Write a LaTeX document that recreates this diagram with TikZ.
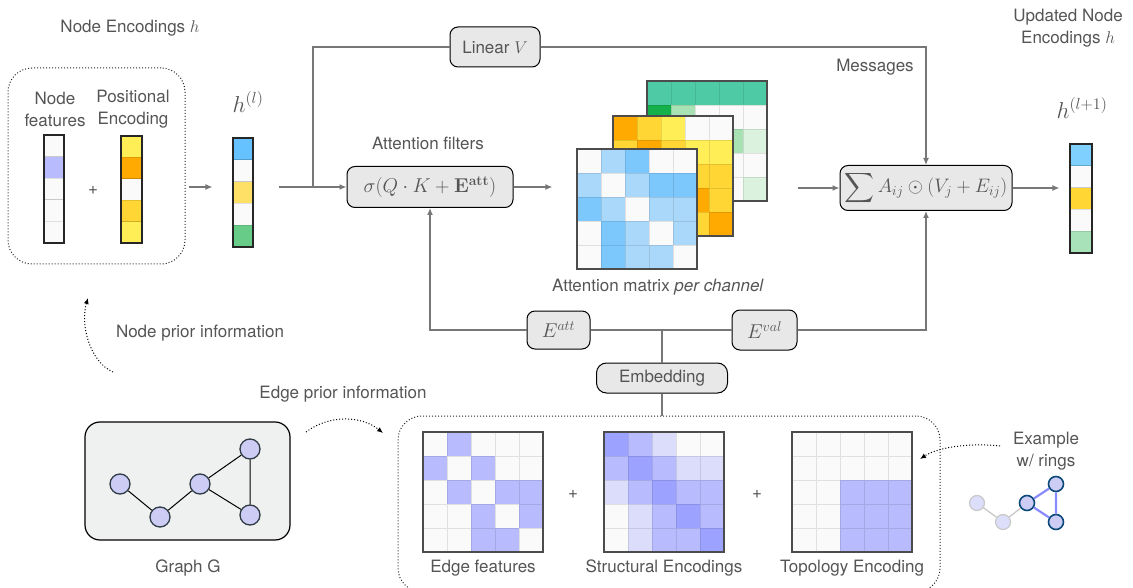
\RequirePackage{fix-cm}
\documentclass[tikz,border=0pt]{standalone}
\usepackage{amsmath}
\usepackage[no-math]{fontspec}
\setmainfont{TeX Gyre Heros}
\usetikzlibrary{arrows.meta}

\definecolor{txtgrey}{HTML}{555555}
\definecolor{linegrey}{HTML}{777777}
\definecolor{boxgrey}{HTML}{E8E8E8}
\definecolor{graphbg}{HTML}{EFF1F0}
\definecolor{nodefill}{HTML}{CCCCF5}
\definecolor{nodeedge}{HTML}{2F3B44}
\definecolor{ringedge}{HTML}{0B4A7A}
\definecolor{ringline}{HTML}{8A8AFF}
\definecolor{fadefill}{HTML}{DDDFFA}
\definecolor{fadeedge}{HTML}{C8C8C8}
% cell colours
\definecolor{cw}{HTML}{FAFAFA}
\definecolor{lav}{HTML}{B8BCFF}
\definecolor{lavd}{HTML}{9CA2FF}
\definecolor{lavl}{HTML}{DCDDFA}
\definecolor{yel}{HTML}{FFEE55}
\definecolor{ora}{HTML}{FFAA00}
\definecolor{gol}{HTML}{FFD633}
\definecolor{bll}{HTML}{AAD8FA}
\definecolor{blm}{HTML}{7CC8FC}
\definecolor{grt}{HTML}{4ECBA5}
\definecolor{grd}{HTML}{14B04A}
\definecolor{grl}{HTML}{A8E2B4}
\definecolor{grv}{HTML}{DBF2DF}
\definecolor{hb}{HTML}{66C2FF}
\definecolor{hy}{HTML}{FFE066}
\definecolor{hg}{HTML}{66CC88}
\definecolor{ob}{HTML}{80D0FF}
\definecolor{om}{HTML}{A8E2B8}

% #1,#2 top left, #3 columns, #4 cell width, #5 cell height, #6 colours row by row
\newcommand{\cellgrid}[6]{%
  \foreach \cc [count=\k from 0] in {#6} {
    \pgfmathtruncatemacro\cx{mod(\k,#3)}
    \pgfmathtruncatemacro\cy{\k/#3}
    \fill[\cc] (#1+\cx*#4,#2+\cy*#5) rectangle ++(#4,#5);
    \draw[black, draw opacity=0.1, line width=0.8pt] (#1+\cx*#4,#2+\cy*#5) rectangle ++(#4,#5);
  }%
}

\begin{document}
\begin{tikzpicture}[x=1pt,y=-1pt,
txt/.style={
text=txtgrey,
font=\fontsize{17}{22}\selectfont,
align=center,
inner sep=0pt
},
box/.style={
% The shape:
rectangle,
rounded corners=8pt,
draw=black,
line width=1pt,
fill=boxgrey,
text=txtgrey,
font=\fontsize{17}{22}\selectfont,
inner sep=0pt
},
dotbox/.style={rectangle,rounded corners=24pt,draw=black!85,dotted,line width=1pt},
vecframe/.style={rectangle,draw=black!85,line width=1.1pt,inner sep=0pt},
matframe/.style={rectangle,draw=black!70,line width=1.2pt,inner sep=0pt,minimum size=120pt},
conn/.style={draw=linegrey,line width=1.3pt},
arrow/.style={conn,-{Latex[length=7pt,width=6pt]}},
dotarrow/.style={draw=black,dotted,line width=1pt,-{Latex[length=6pt,width=5pt]}},
gnode/.style={circle,draw=nodeedge,line width=1.3pt,fill=nodefill,minimum size=20pt,inner sep=0pt}
]
\useasboundingbox (0,0) rectangle (1133,588);

% Node encodings
\node[txt] (enctitle) at (130,28) {Node Encodings $h$};
\node[dotbox,minimum width=177pt,minimum height=196pt] (encbox) at (96.5,166) {};
\node[txt] (nftext) at (55,109) {Node\\features};
\node[txt] (petext) at (133,109) {Positional\\Encoding};
\cellgrid{44}{135}{1}{20}{21.6}{cw,lav,cw,cw,cw}
\node[vecframe,minimum width=20pt,minimum height=108pt] (nf) at (54,189) {};
\cellgrid{121}{136}{1}{21}{21.4}{yel,ora,cw,gol,yel}
\node[vecframe,minimum width=21pt,minimum height=107pt] (pe) at (131.5,189.5) {};
\node[txt] (plusa) at (93,190) {+};

\node[txt,font=\fontsize{23}{26}\selectfont] (hltext) at (248,102) {$h^{(l)}$};
\cellgrid{233}{138}{1}{20}{21.8}{hb,cw,hy,cw,hg}
\node[vecframe,minimum width=20pt,minimum height=109pt] (hl) at (243,192.5) {};

% Attention
\node[txt] (filtext) at (428,143) {Attention filters};
\node[box,minimum width=166pt,minimum height=41pt,font=\fontsize{20}{22}\selectfont] (sigma) at (430,187) {$\sigma(Q\cdot K+\mathbf{E}^{\mathbf{att}})$};
\node[box,minimum width=90pt,minimum height=40pt] (linv) at (495,47) {Linear $V$};
\node[txt] (msgtext) at (875,67) {Messages};
\coordinate (split) at (313,187);

\cellgrid{647}{81}{5}{24}{24}{grt,grt,grt,grt,grt,grd,grl,cw,cw,cw,cw,cw,cw,grl,grv,cw,cw,cw,cw,cw,cw,cw,cw,cw,grv}
\node[matframe] (attG) at (707,141) {};
\cellgrid{613}{116}{5}{24}{24}{ora,gol,yel,cw,cw,gol,ora,gol,yel,yel,yel,gol,ora,gol,gol,cw,yel,gol,ora,gol,cw,yel,gol,gol,ora}
\node[matframe] (attY) at (673,176) {};
\cellgrid{577}{149}{5}{24}{24}{cw,bll,blm,cw,cw,bll,cw,bll,blm,blm,blm,bll,cw,bll,bll,cw,blm,bll,cw,bll,cw,blm,bll,bll,cw}
\node[matframe] (attB) at (637,209) {};
\node[txt] (attext) at (658,287) {Attention matrix \textit{per channel}};

\node[box,minimum width=172pt,minimum height=45pt,font=\fontsize{19.5}{22}\selectfont] (sumbox) at (926,188) {$\displaystyle\sum A_{ij}\odot(V_j+E_{ij})$};

\node[txt] (updtext) at (1068,28) {Updated Node\\Encodings $h$};
\node[txt,font=\fontsize{23}{26}\selectfont] (houttext) at (1082,108) {$h^{(l+1)}$};
\cellgrid{1070}{144}{1}{22}{21.8}{ob,cw,gol,cw,om}
\node[vecframe,minimum width=22pt,minimum height=109pt] (hout) at (1081,198.5) {};

\draw[arrow,shorten <=3pt,shorten >=20pt] (encbox.east |- sigma) -- (hl.west |- sigma);
\draw[arrow,shorten <=25pt] (hl.east |- sigma) -- (sigma.west);
\draw[conn] (split) |- (linv.west);
\draw[arrow] (linv.east) -| (sumbox.north);
\draw[arrow,shorten >=24pt] (sigma.east) -- (attB.west |- sigma);
\draw[arrow,shorten <=30pt] (attG.east |- sumbox) -- (sumbox.west);
\draw[arrow,shorten >=10pt] (sumbox.east) -- (hout.west |- sumbox);

% Edge embeddings
\node[box,minimum width=63pt,minimum height=38pt,font=\fontsize{20}{24}\selectfont] (eatt) at (558.5,330) {$E^{att}$};
\node[box,minimum width=65pt,minimum height=40pt,font=\fontsize{20}{24}\selectfont] (eval) at (764.5,330) {$E^{val}$};
\node[box,rounded corners=10pt,minimum width=131pt,minimum height=30pt] (embed) at (662,378) {Embedding};
\node[dotbox,minimum width=542pt,minimum height=176pt] (edgebox) at (669,504) {};

\draw[arrow] (eatt.west) -| (sigma.south);
\draw[conn] (eatt.east) -- (eval.west);
\draw[arrow] (eval.east) -| (sumbox.south);
\draw[conn] (embed.north) -- (embed.north |- eatt.east);
\draw[conn] (embed.south) -- (embed.south |- edgebox.north);

\cellgrid{423}{432}{5}{24}{24}{cw,lav,cw,cw,cw,lav,cw,lav,cw,cw,cw,lav,cw,lav,lav,cw,cw,lav,cw,lav,cw,cw,lav,lav,cw}
\node[matframe] (edgefeat) at (483,492) {};
\cellgrid{604}{432}{5}{24}{24}{lavd,lav,lavl,cw,cw,lav,lavd,lav,lavl,lavl,lavl,lav,lavd,lav,lav,cw,lavl,lav,lavd,lav,cw,lavl,lav,lav,lavd}
\node[matframe] (structenc) at (664,492) {};
\cellgrid{792}{432}{5}{24}{24}{cw,cw,cw,cw,cw,cw,cw,cw,cw,cw,cw,cw,lav,lav,lav,cw,cw,lav,lav,lav,cw,cw,lav,lav,lav}
\node[matframe] (topoenc) at (852,492) {};
\node[txt] (plusb) at (573,494) {+};
\node[txt] (plusc) at (757,494) {+};
\node[txt] (eftext) at (483,568) {Edge features};
\node[txt] (setext) at (664,568) {Structural Encodings};
\node[txt] (tetext) at (852,568) {Topology Encoding};

% Graph G
\node[rectangle,rounded corners=15pt,draw=black,line width=1.2pt,fill=graphbg,minimum width=205pt,minimum height=118pt] (gbox) at (187.5,481) {};
\node[gnode] (g1) at (120,484) {};
\node[gnode] (g2) at (160,517) {};
\node[gnode] (g3) at (200,484) {};
\node[gnode] (g4) at (250,449) {};
\node[gnode] (g5) at (250,515) {};
\draw[black,line width=1pt] (g1) -- (g2) (g2) -- (g3) (g3) -- (g4) (g3) -- (g5) (g4) -- (g5);
\node[txt] (gtext) at (188,568) {Graph G};

% Example with rings
\node[txt] (extext) at (1046,451) {Example\\w/ rings};
\node[gnode,minimum size=15pt,draw=fadeedge,fill=fadefill,line width=1.2pt] (r1) at (977,503) {};
\node[gnode,minimum size=15pt,draw=fadeedge,fill=fadefill,line width=1.2pt] (r2) at (1003,522) {};
\node[gnode,minimum size=15pt,draw=ringedge,line width=1.6pt] (r3) at (1027,503) {};
\node[gnode,minimum size=15pt,draw=ringedge,line width=1.6pt] (r4) at (1056,484) {};
\node[gnode,minimum size=15pt,draw=ringedge,line width=1.6pt] (r5) at (1056,522) {};
\draw[fadeedge,line width=1.3pt] (r1) -- (r2) (r2) -- (r3);
\draw[ringline,line width=2.2pt] (r3) -- (r4) (r4) -- (r5) (r3) -- (r5);

% Prior information
\node[txt] (nptext) at (200,333) {Node prior information};
\node[txt] (eptext) at (343,394) {Edge prior information};
\coordinate (np0) at (113,372);
\coordinate (np1) at (88,298);
\coordinate (ep0) at (306,432);
\coordinate (ep1) at (383,433);
\coordinate (ex0) at (1000,446);
\coordinate (ex1) at (920,459);
\draw[dotarrow] (np0) .. controls (90,362) and (80,325) .. (np1);
\draw[dotarrow] (ep0) .. controls (330,414) and (362,416) .. (ep1);
\draw[dotarrow] (ex0) .. controls (975,443) and (940,446) .. (ex1);
\end{tikzpicture}
\end{document}
